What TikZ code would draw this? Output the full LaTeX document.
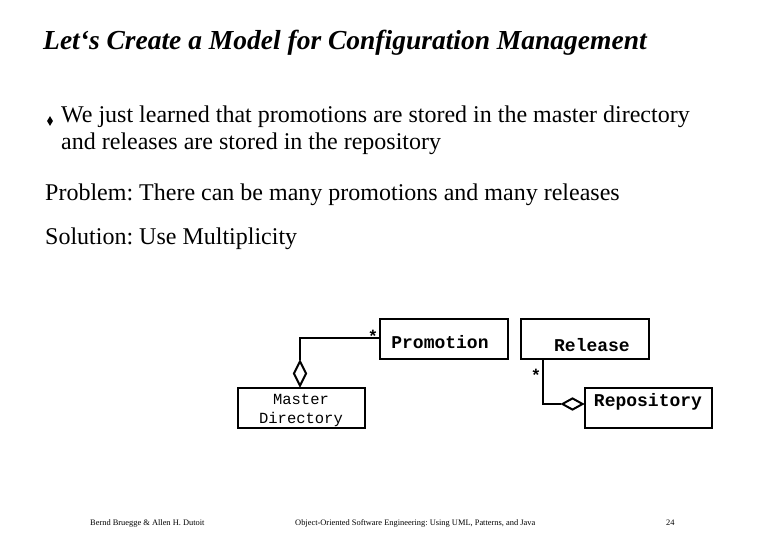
\documentclass[tikz,border=0pt]{standalone}
\usepackage{fontspec}
\setmainfont{Liberation Serif}
\setmonofont{Liberation Mono}
\usetikzlibrary{shapes.geometric}
\frenchspacing
\begin{document}
\begin{tikzpicture}[x=1pt,y=-1pt,
  cls/.style={draw,line width=2.2pt,anchor=north west,inner sep=0pt},
  lbl/.style={inner sep=0pt,font=\ttfamily\bfseries\fontsize{18}{20}\selectfont,align=center},
  conn/.style={line width=2.2pt},
  agg/.style={draw,line width=2pt,fill=white,shape=diamond,inner sep=0pt},
  txt/.style={anchor=north west,inner sep=0pt,font=\fontsize{24}{27}\selectfont,align=left},
  foot/.style={anchor=west,inner sep=0pt,font=\fontsize{8.4}{10}\selectfont}]
\useasboundingbox (0,0) rectangle (780,540);
\node[txt,font=\bfseries\itshape\fontsize{27.5}{30}\selectfont] (title) at (43,30) {Let‘s Create a Model for Configuration Management};
\node[fill=black,diamond,inner sep=0pt,minimum width=6pt,minimum height=10pt] (bul) at (50,121) {};
\node[txt] (b1) at (61,106) {We just learned that promotions are stored in the master directory\\and releases are stored in the repository};
\node[txt] (p) at (45,184) {Problem: There can be many promotions and many releases};
\node[txt] (s) at (45,228) {Solution: Use Multiplicity};

\node[cls,minimum width=128pt,minimum height=40pt] (prom) at (379,318) {};
\node[lbl] (promt) at (440,342) {Promotion};
\node[cls,minimum width=128pt,minimum height=40pt] (rel) at (520,318) {};
\node[lbl] (relt) at (592,345) {Release};
\node[cls,minimum width=127pt,minimum height=40pt] (md) at (237,387) {};
\node[lbl,font=\ttfamily\fontsize{15.5}{19}\selectfont] (mdt) at (301,410) {Master\\Directory};
\node[cls,minimum width=127pt,minimum height=40pt] (repo) at (584,387) {};
\node[lbl] (repot) at (648,402) {Repository};

\node[agg,minimum width=13pt,minimum height=25pt,anchor=south] (d1) at (md.north -| 300,0) {};
\draw[conn] (d1.north) |- (prom.west |- 0,338);
\node[font=\ttfamily\bfseries\fontsize{17}{17}\selectfont] (st1) at (373,336) {*};

\node[agg,minimum width=21pt,minimum height=12pt,anchor=east] (d2) at (repo.west |- 0,404) {};
\draw[conn] (d2.west) -| (rel.south -| 543,0);
\node[font=\ttfamily\bfseries\fontsize{17}{17}\selectfont] (st2) at (536,375) {*};

\node[foot] (f1) at (90,523) {Bernd Bruegge \& Allen H. Dutoit};
\node[foot] (f2) at (295,523) {Object-Oriented Software Engineering: Using UML, Patterns, and Java};
\node[foot] (f3) at (666,523) {24};
\end{tikzpicture}
\end{document}
